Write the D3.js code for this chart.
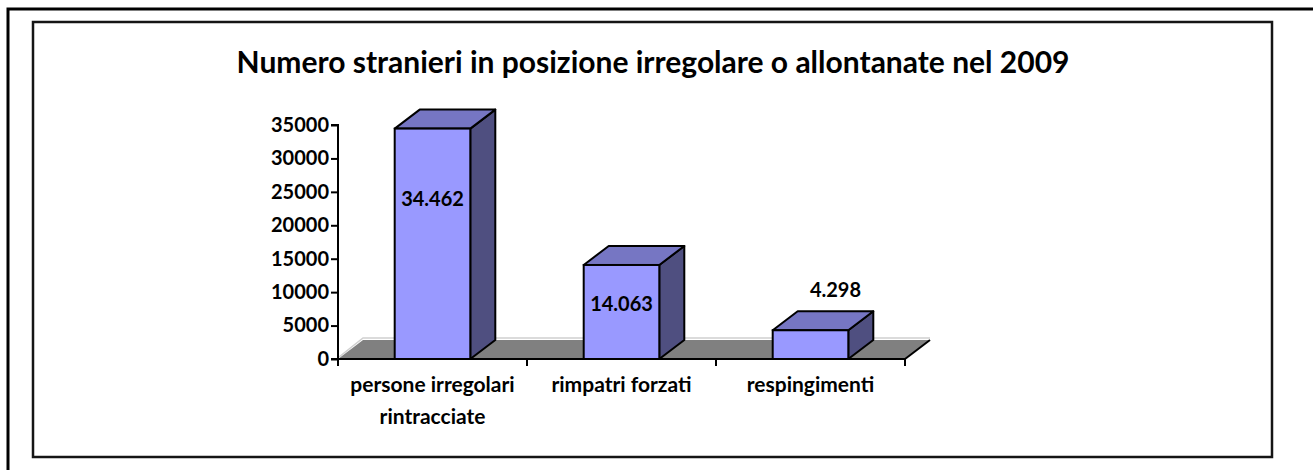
<!DOCTYPE html>
<html>
<head>
<meta charset="utf-8">
<script src="https://cdn.jsdelivr.net/npm/d3@7"></script>
<style>
  body { margin: 0; background: #fff; }
  text { font-family: Lato, "Open Sans", sans-serif; font-weight: bold; fill: #000; }
</style>
</head>
<body>
<div id="chart"></div>
<script>
// data
const title = "Numero stranieri in posizione irregolare o allontanate nel 2009"
const categories = ["persone irregolari rintracciate", "rimpatri forzati", "respingimenti"]
const categoryLines = [["persone irregolari", "rintracciate"], ["rimpatri forzati"], ["respingimenti"]]
const values = [34462, 14063, 4298]
const yTicks = [0, 5000, 10000, 15000, 20000, 25000, 30000, 35000]

const W = 1313, H = 470
const depth = { dx: 25, dy: -19 }

const svg = d3.select("#chart")
    .append("svg")
    .attr("width", W)
    .attr("height", H)

// outer frame (only top and left edges are visible)
svg.append("path")
    .attr("d", "M8,470 L8,9 L1313,9")
    .attr("fill", "none")
    .attr("stroke", "#000")
    .attr("stroke-width", 3)

// chart area border
svg.append("rect")
    .attr("x", 33).attr("y", 22)
    .attr("width", 1239).attr("height", 435)
    .attr("fill", "#fff")
    .attr("stroke", "#151515")
    .attr("stroke-width", 2.5)

svg.append("text")
    .attr("x", 653)
    .attr("y", 73)
    .attr("text-anchor", "middle")
    .style("font-size", "30px")
    .text(title)

const x = d3.scaleBand()
    .domain(categories)
    .range([338, 905])
const y = d3.scaleLinear()
    .domain([0, 35000])
    .range([359, 125])

const bw = x.bandwidth() * 0.4
const x0 = x.range()[0], x1 = x.range()[1], y0 = y(0)

// floor
svg.append("path")
    .attr("d", `M${x0 + 1},${y0 - 2} L${x0 + depth.dx},${y0 + depth.dy - 2} L${x1 + depth.dx},${y0 + depth.dy - 2}`)
    .attr("fill", "none")
    .attr("stroke", "#d0d0d0")
    .attr("stroke-width", 1.5)
svg.append("path")
    .attr("d", `M${x0},${y0} L${x0 + depth.dx},${y0 + depth.dy} L${x1 + depth.dx},${y0 + depth.dy} L${x1},${y0} Z`)
    .attr("fill", "#808080")
svg.append("path")
    .attr("d", `M${x1 + depth.dx},${y0 + depth.dy} L${x1},${y0}`)
    .attr("stroke", "#000")
    .attr("stroke-width", 2)

// y axis
const yAxis = svg.append("g")
    .attr("transform", `translate(${x0},0)`)
    .call(d3.axisLeft(y).tickValues(yTicks).tickFormat(d3.format("d")).tickSize(7).tickPadding(2))
yAxis.select(".domain").attr("stroke-width", 2).attr("d", `M-7,${y(35000)}H0V${y0}`)
yAxis.selectAll(".tick line").attr("stroke-width", 2)
yAxis.selectAll(".tick text").style("font-size", "20px").style("font-family", "Lato, sans-serif").style("font-weight", "bold")

// x axis line and boundary ticks
svg.append("line")
    .attr("x1", x0 - 7).attr("x2", x1)
    .attr("y1", y0).attr("y2", y0)
    .attr("stroke", "#000").attr("stroke-width", 2)
svg.selectAll(".xtick")
    .data([x0].concat(categories.map(c => x(c) + x.bandwidth())))
    .join("line")
    .attr("x1", d => d).attr("x2", d => d)
    .attr("y1", y0).attr("y2", y0 + 7)
    .attr("stroke", "#000").attr("stroke-width", 2)

// 3D bars
const bars = svg.selectAll(".bar")
    .data(values.map((v, i) => ({ v, c: categories[i] })))
    .join("g")

const fx = d => x(d.c) + (x.bandwidth() - bw) / 2
bars.append("path") // side
    .attr("d", d => `M${fx(d) + bw},${y(d.v)} L${fx(d) + bw + depth.dx},${y(d.v) + depth.dy} L${fx(d) + bw + depth.dx},${y0 + depth.dy} L${fx(d) + bw},${y0} Z`)
    .attr("fill", "#4f4f80").attr("stroke", "#000").attr("stroke-width", 2).attr("stroke-linejoin", "round")
bars.append("path") // top
    .attr("d", d => `M${fx(d)},${y(d.v)} L${fx(d) + depth.dx},${y(d.v) + depth.dy} L${fx(d) + bw + depth.dx},${y(d.v) + depth.dy} L${fx(d) + bw},${y(d.v)} Z`)
    .attr("fill", "#7676c3").attr("stroke", "#000").attr("stroke-width", 2).attr("stroke-linejoin", "round")
bars.append("rect") // front
    .attr("x", fx)
    .attr("y", d => y(d.v))
    .attr("width", bw)
    .attr("height", d => y0 - y(d.v))
    .attr("fill", "#9999ff").attr("stroke", "#000").attr("stroke-width", 2)

// value labels
const it = d3.formatLocale({ decimal: ",", thousands: ".", grouping: [3], currency: ["€", ""] }).format(",d")
bars.append("text")
    .attr("text-anchor", "middle")
    .attr("dominant-baseline", "central")
    .style("font-size", "20px")
    .attr("x", d => {
        const h = y0 - y(d.v)
        return h > 60 ? fx(d) + bw / 2 : fx(d) + bw / 2 + depth.dx
    })
    .attr("y", d => {
        const h = y0 - y(d.v)
        return h > 60 ? y(d.v) + 16.6 + 0.228 * h : y(d.v) + depth.dy - 22
    })
    .text(d => it(d.v))

// category labels
svg.selectAll(".cat")
    .data(categories)
    .join("text")
    .attr("text-anchor", "middle")
    .style("font-size", "21px")
    .attr("transform", (c) => `translate(${x(c) + x.bandwidth() / 2},392)`)
    .selectAll("tspan")
    .data((c, i) => categoryLines[i])
    .join("tspan")
    .attr("x", 0)
    .attr("dy", (d, i) => i === 0 ? 0 : 32)
    .text(d => d)
</script>
</body>
</html>
